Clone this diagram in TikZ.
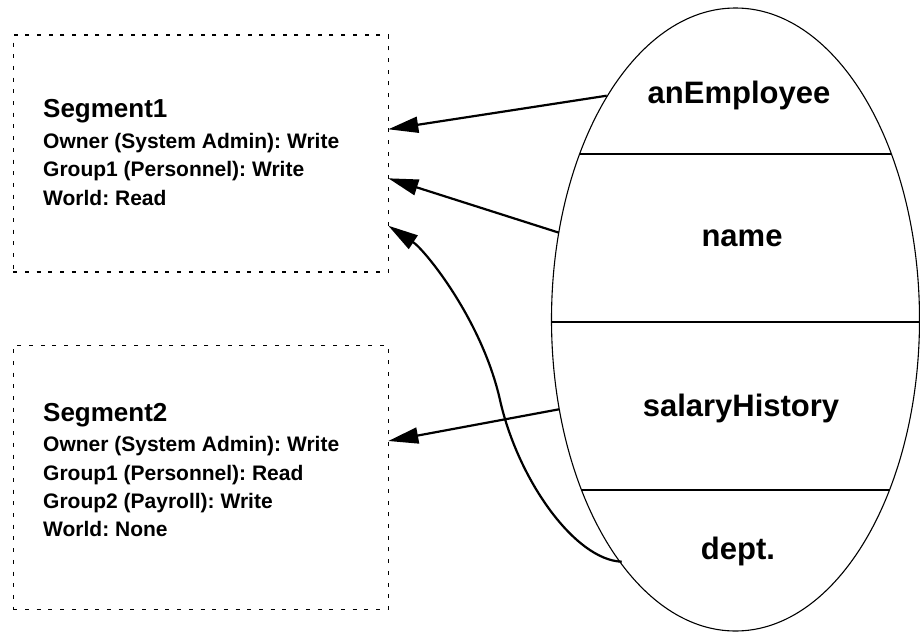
\documentclass[tikz,border=0pt]{standalone}
\usepackage{fontspec}
\setmainfont{Liberation Sans}
\usetikzlibrary{shapes.geometric,arrows.meta}
\frenchspacing
\begin{document}
\begin{tikzpicture}[x=1pt,y=-1pt,
  segbox/.style={draw,dash pattern=on 4pt off 7.7pt,line width=1.1pt,inner sep=0pt,outer sep=0pt,anchor=north west,minimum width=375pt},
  segtitle/.style={anchor=base west,inner sep=0pt,font=\fontsize{26}{26}\selectfont\bfseries},
  segline/.style={anchor=base west,inner sep=0pt,font=\fontsize{21}{21}\selectfont\bfseries},
  flabel/.style={anchor=base,inner sep=0pt,font=\fontsize{31}{31}\selectfont\bfseries},
  conn/.style={line width=2.2pt,-{Triangle[length=30pt,width=16pt]}},
  thin/.style={line width=1.1pt}]
\useasboundingbox (0,0) rectangle (920,632);

% segment boxes
\node[segbox,minimum height=237pt] (seg1) at (13.3,35) {};
\node[segbox,minimum height=264pt] (seg2) at (13.3,345.3) {};

\node[segtitle] (t1) at (43,117.3) {Segment1};
\node[segline] (t1a) at (43,148.3) {Owner (System Admin): Write};
\node[segline] (t1b) at (43,176.7) {Group1 (Personnel): Write};
\node[segline] (t1c) at (43,205) {World: Read};

\node[segtitle] (t2) at (43,421) {Segment2};
\node[segline] (t2a) at (43,451.7) {Owner (System Admin): Write};
\node[segline] (t2b) at (43,480) {Group1 (Personnel): Read};
\node[segline] (t2c) at (43,508.3) {Group2 (Payroll): Write};
\node[segline] (t2d) at (43,536.7) {World: None};

% object ellipse
\node[ellipse,draw,thin,inner sep=0pt,outer sep=0pt,minimum width=368pt,minimum height=623pt] (obj) at (735.5,319.5) {};
\draw[thin] (579.6,154) -- (891.4,154);
\draw[thin] (551.5,322) -- (919.5,322);
\draw[thin] (581.5,490) -- (889.5,490);

\node[flabel] (f1) at (739,103) {anEmployee};
\node[flabel] (f2) at (742,246.7) {name};
\node[flabel] (f3) at (741,416) {salaryHistory};
\node[flabel] (f4) at (738,559) {dept.};

% connector endpoints
\coordinate (a1) at (606.7,95.7);
\coordinate (a2) at (559,232.7);
\coordinate (a3) at (559,409.3);
\coordinate (a4) at (621.7,561.7);
\coordinate (b1) at (388.3,129.3);
\coordinate (b2) at (388.3,178.3);
\coordinate (b3) at (388.3,225.7);
\coordinate (b4) at (388.3,441);
\coordinate (m4) at (500,400);

\draw[conn] (a1) -- (b1);
\draw[conn] (a2) -- (b2);
\draw[conn] (a3) -- (b4);
\draw[conn] (a4) .. controls (575,560) and (518,480) .. (m4)
  .. controls (482,320) and (425,250) .. (b3);
\end{tikzpicture}
\end{document}
